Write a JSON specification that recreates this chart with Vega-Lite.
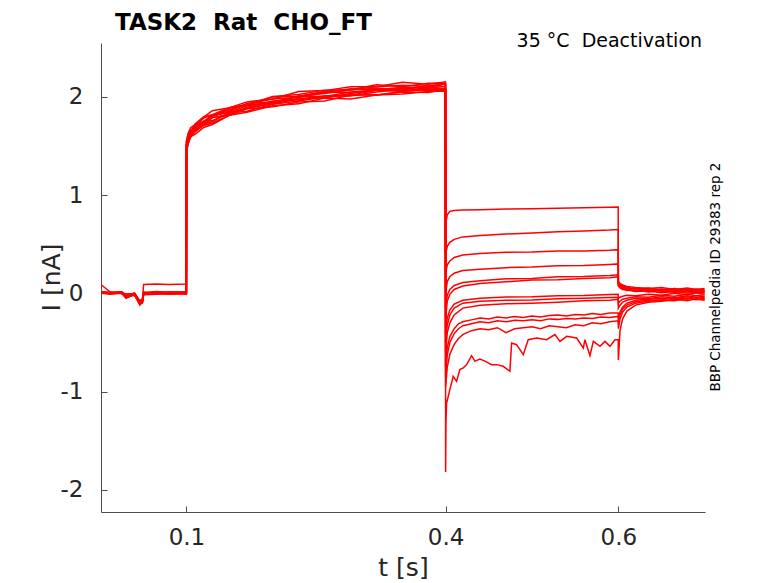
{
  "$schema": "https://vega.github.io/schema/vega-lite/v6.json",
  "description": "TASK2 Rat CHO_FT deactivation current traces",
  "width": 604,
  "height": 469,
  "autosize": {"type": "none"},
  "padding": {"left": 101, "top": 43, "right": 73, "bottom": 71},
  "background": "#ffffff",
  "config": {
    "view": {"stroke": null},
    "font": "DejaVu Sans",
    "axis": {
      "grid": false,
      "domainColor": "#4d4d4d",
      "tickColor": "#4d4d4d",
      "labelColor": "#262626",
      "titleColor": "#262626",
      "labelFont": "DejaVu Sans",
      "titleFont": "DejaVu Sans",
      "titleFontWeight": "normal",
      "labelFontSize": 23,
      "titleFontSize": 25,
      "tickSize": -6
    }
  },
  "title": {
    "text": "TASK2\u00a0 Rat\u00a0 CHO_FT",
    "anchor": "start",
    "frame": "group",
    "font": "DejaVu Sans",
    "fontSize": 23,
    "fontWeight": "bold",
    "color": "#000000",
    "dx": 14,
    "dy": 20,
    "offset": 17
  },
  "layer": [
    {
      "data": {"values": [
{"s":1,"t":0.001,"i":0.0},{"s":1,"t":0.012,"i":0.005},{"s":1,"t":0.025,"i":0.01},{"s":1,"t":0.03,"i":-0.01},{"s":1,"t":0.04,"i":0.0},{"s":1,"t":0.046,"i":-0.09},{"s":1,"t":0.049,"i":-0.07},{"s":1,"t":0.0505,"i":0.09},{"s":1,"t":0.065,"i":0.095},{"s":1,"t":0.08,"i":0.09},{"s":1,"t":0.0999,"i":0.095},
{"s":1,"t":0.1001,"i":1.55},{"s":1,"t":0.102,"i":1.59},{"s":1,"t":0.105,"i":1.66},{"s":1,"t":0.11,"i":1.69},{"s":1,"t":0.12,"i":1.785},{"s":1,"t":0.13,"i":1.815},{"s":1,"t":0.15,"i":1.89},{"s":1,"t":0.17,"i":1.92},{"s":1,"t":0.2,"i":2.0},{"s":1,"t":0.23,"i":2.005},{"s":1,"t":0.26,"i":2.055},{"s":1,"t":0.29,"i":2.075},{"s":1,"t":0.32,"i":2.105},{"s":1,"t":0.35,"i":2.12},{"s":1,"t":0.38,"i":2.11},{"s":1,"t":0.3999,"i":2.135},
{"s":1,"t":0.4001,"i":0.7},{"s":1,"t":0.402,"i":0.8},{"s":1,"t":0.405,"i":0.835},{"s":1,"t":0.41,"i":0.845},{"s":1,"t":0.42,"i":0.85},{"s":1,"t":0.44,"i":0.852},{"s":1,"t":0.47,"i":0.858},{"s":1,"t":0.5,"i":0.862},{"s":1,"t":0.53,"i":0.868},{"s":1,"t":0.56,"i":0.872},{"s":1,"t":0.59,"i":0.878},{"s":1,"t":0.5999,"i":0.88},
{"s":1,"t":0.6001,"i":0.12},{"s":1,"t":0.602,"i":0.1},{"s":1,"t":0.605,"i":0.085},{"s":1,"t":0.61,"i":0.07},{"s":1,"t":0.62,"i":0.06},{"s":1,"t":0.635,"i":0.05},{"s":1,"t":0.65,"i":0.06},{"s":1,"t":0.665,"i":0.04},{"s":1,"t":0.68,"i":0.055},{"s":1,"t":0.69,"i":0.04},{"s":1,"t":0.7,"i":0.05},

{"s":2,"t":0.001,"i":0.01},{"s":2,"t":0.012,"i":0.0},{"s":2,"t":0.025,"i":0.015},{"s":2,"t":0.03,"i":-0.04},{"s":2,"t":0.04,"i":-0.01},{"s":2,"t":0.046,"i":-0.1},{"s":2,"t":0.049,"i":-0.09},{"s":2,"t":0.0505,"i":0.0},{"s":2,"t":0.065,"i":0.01},{"s":2,"t":0.08,"i":0.0},{"s":2,"t":0.0999,"i":0.005},
{"s":2,"t":0.1001,"i":1.46},{"s":2,"t":0.102,"i":1.565},{"s":2,"t":0.105,"i":1.605},{"s":2,"t":0.11,"i":1.67},{"s":2,"t":0.12,"i":1.71},{"s":2,"t":0.13,"i":1.79},{"s":2,"t":0.15,"i":1.815},{"s":2,"t":0.17,"i":1.885},{"s":2,"t":0.2,"i":1.93},{"s":2,"t":0.23,"i":1.98},{"s":2,"t":0.26,"i":2.01},{"s":2,"t":0.29,"i":2.01},{"s":2,"t":0.32,"i":2.05},{"s":2,"t":0.35,"i":2.08},{"s":2,"t":0.38,"i":2.065},{"s":2,"t":0.3999,"i":2.08},
{"s":2,"t":0.4001,"i":0.4},{"s":2,"t":0.402,"i":0.48},{"s":2,"t":0.405,"i":0.52},{"s":2,"t":0.41,"i":0.55},{"s":2,"t":0.42,"i":0.575},{"s":2,"t":0.44,"i":0.59},{"s":2,"t":0.47,"i":0.605},{"s":2,"t":0.5,"i":0.615},{"s":2,"t":0.53,"i":0.628},{"s":2,"t":0.56,"i":0.636},{"s":2,"t":0.59,"i":0.645},{"s":2,"t":0.5999,"i":0.65},
{"s":2,"t":0.6001,"i":0.11},{"s":2,"t":0.602,"i":0.09},{"s":2,"t":0.605,"i":0.08},{"s":2,"t":0.61,"i":0.06},{"s":2,"t":0.62,"i":0.045},{"s":2,"t":0.635,"i":0.055},{"s":2,"t":0.65,"i":0.035},{"s":2,"t":0.665,"i":0.05},{"s":2,"t":0.68,"i":0.03},{"s":2,"t":0.69,"i":0.045},{"s":2,"t":0.7,"i":0.035},

{"s":3,"t":0.001,"i":0.0},{"s":3,"t":0.012,"i":0.01},{"s":3,"t":0.025,"i":0.0},{"s":3,"t":0.03,"i":-0.02},{"s":3,"t":0.04,"i":-0.02},{"s":3,"t":0.046,"i":-0.08},{"s":3,"t":0.049,"i":-0.06},{"s":3,"t":0.0505,"i":0.01},{"s":3,"t":0.065,"i":0.0},{"s":3,"t":0.08,"i":0.015},{"s":3,"t":0.0999,"i":0.01},
{"s":3,"t":0.1001,"i":1.52},{"s":3,"t":0.102,"i":1.57},{"s":3,"t":0.105,"i":1.66},{"s":3,"t":0.11,"i":1.675},{"s":3,"t":0.12,"i":1.755},{"s":3,"t":0.13,"i":1.8},{"s":3,"t":0.15,"i":1.87},{"s":3,"t":0.17,"i":1.92},{"s":3,"t":0.2,"i":1.945},{"s":3,"t":0.23,"i":2.005},{"s":3,"t":0.26,"i":2.05},{"s":3,"t":0.29,"i":2.045},{"s":3,"t":0.32,"i":2.075},{"s":3,"t":0.35,"i":2.07},{"s":3,"t":0.38,"i":2.12},{"s":3,"t":0.3999,"i":2.105},
{"s":3,"t":0.4001,"i":0.2},{"s":3,"t":0.402,"i":0.29},{"s":3,"t":0.405,"i":0.33},{"s":3,"t":0.41,"i":0.365},{"s":3,"t":0.42,"i":0.39},{"s":3,"t":0.44,"i":0.405},{"s":3,"t":0.47,"i":0.418},{"s":3,"t":0.5,"i":0.42},{"s":3,"t":0.53,"i":0.432},{"s":3,"t":0.56,"i":0.432},{"s":3,"t":0.59,"i":0.44},{"s":3,"t":0.5999,"i":0.445},
{"s":3,"t":0.6001,"i":0.1},{"s":3,"t":0.602,"i":0.085},{"s":3,"t":0.605,"i":0.07},{"s":3,"t":0.61,"i":0.05},{"s":3,"t":0.62,"i":0.05},{"s":3,"t":0.635,"i":0.03},{"s":3,"t":0.65,"i":0.045},{"s":3,"t":0.665,"i":0.025},{"s":3,"t":0.68,"i":0.04},{"s":3,"t":0.69,"i":0.02},{"s":3,"t":0.7,"i":0.03},

{"s":4,"t":0.001,"i":0.01},{"s":4,"t":0.012,"i":-0.005},{"s":4,"t":0.025,"i":0.01},{"s":4,"t":0.03,"i":-0.05},{"s":4,"t":0.04,"i":-0.01},{"s":4,"t":0.046,"i":-0.11},{"s":4,"t":0.049,"i":-0.1},{"s":4,"t":0.0505,"i":-0.01},{"s":4,"t":0.065,"i":0.0},{"s":4,"t":0.08,"i":-0.01},{"s":4,"t":0.0999,"i":0.0},
{"s":4,"t":0.1001,"i":1.445},{"s":4,"t":0.102,"i":1.535},{"s":4,"t":0.105,"i":1.59},{"s":4,"t":0.11,"i":1.65},{"s":4,"t":0.12,"i":1.71},{"s":4,"t":0.13,"i":1.735},{"s":4,"t":0.15,"i":1.815},{"s":4,"t":0.17,"i":1.88},{"s":4,"t":0.2,"i":1.9},{"s":4,"t":0.23,"i":1.95},{"s":4,"t":0.26,"i":1.96},{"s":4,"t":0.29,"i":2.02},{"s":4,"t":0.32,"i":2.02},{"s":4,"t":0.35,"i":2.05},{"s":4,"t":0.38,"i":2.045},{"s":4,"t":0.3999,"i":2.08},
{"s":4,"t":0.4001,"i":0.0},{"s":4,"t":0.402,"i":0.12},{"s":4,"t":0.405,"i":0.17},{"s":4,"t":0.41,"i":0.205},{"s":4,"t":0.42,"i":0.232},{"s":4,"t":0.44,"i":0.245},{"s":4,"t":0.47,"i":0.262},{"s":4,"t":0.5,"i":0.268},{"s":4,"t":0.53,"i":0.28},{"s":4,"t":0.56,"i":0.283},{"s":4,"t":0.59,"i":0.295},{"s":4,"t":0.5999,"i":0.3},
{"s":4,"t":0.6001,"i":0.09},{"s":4,"t":0.602,"i":0.075},{"s":4,"t":0.605,"i":0.06},{"s":4,"t":0.61,"i":0.045},{"s":4,"t":0.62,"i":0.03},{"s":4,"t":0.635,"i":0.04},{"s":4,"t":0.65,"i":0.02},{"s":4,"t":0.665,"i":0.035},{"s":4,"t":0.68,"i":0.015},{"s":4,"t":0.69,"i":0.03},{"s":4,"t":0.7,"i":0.02},

{"s":5,"t":0.001,"i":0.02},{"s":5,"t":0.012,"i":0.01},{"s":5,"t":0.025,"i":0.005},{"s":5,"t":0.03,"i":-0.03},{"s":5,"t":0.04,"i":0.0},{"s":5,"t":0.046,"i":-0.09},{"s":5,"t":0.049,"i":-0.08},{"s":5,"t":0.0505,"i":0.0},{"s":5,"t":0.065,"i":0.02},{"s":5,"t":0.08,"i":0.01},{"s":5,"t":0.0999,"i":0.015},
{"s":5,"t":0.1001,"i":1.55},{"s":5,"t":0.102,"i":1.62},{"s":5,"t":0.105,"i":1.655},{"s":5,"t":0.11,"i":1.725},{"s":5,"t":0.12,"i":1.8},{"s":5,"t":0.13,"i":1.82},{"s":5,"t":0.15,"i":1.89},{"s":5,"t":0.17,"i":1.92},{"s":5,"t":0.2,"i":2.005},{"s":5,"t":0.23,"i":2.025},{"s":5,"t":0.26,"i":2.07},{"s":5,"t":0.29,"i":2.075},{"s":5,"t":0.32,"i":2.125},{"s":5,"t":0.35,"i":2.105},{"s":5,"t":0.38,"i":2.14},{"s":5,"t":0.3999,"i":2.14},
{"s":5,"t":0.4001,"i":-0.15},{"s":5,"t":0.402,"i":-0.02},{"s":5,"t":0.405,"i":0.04},{"s":5,"t":0.41,"i":0.08},{"s":5,"t":0.42,"i":0.11},{"s":5,"t":0.44,"i":0.128},{"s":5,"t":0.47,"i":0.148},{"s":5,"t":0.5,"i":0.152},{"s":5,"t":0.53,"i":0.168},{"s":5,"t":0.56,"i":0.172},{"s":5,"t":0.59,"i":0.182},{"s":5,"t":0.5999,"i":0.19},
{"s":5,"t":0.6001,"i":0.08},{"s":5,"t":0.602,"i":0.06},{"s":5,"t":0.605,"i":0.05},{"s":5,"t":0.61,"i":0.03},{"s":5,"t":0.62,"i":0.035},{"s":5,"t":0.635,"i":0.015},{"s":5,"t":0.65,"i":0.03},{"s":5,"t":0.665,"i":0.01},{"s":5,"t":0.68,"i":0.025},{"s":5,"t":0.69,"i":0.005},{"s":5,"t":0.7,"i":0.015},

{"s":6,"t":0.001,"i":0.0},{"s":6,"t":0.012,"i":0.0},{"s":6,"t":0.025,"i":0.01},{"s":6,"t":0.03,"i":-0.01},{"s":6,"t":0.04,"i":-0.02},{"s":6,"t":0.046,"i":-0.07},{"s":6,"t":0.049,"i":-0.07},{"s":6,"t":0.0505,"i":0.005},{"s":6,"t":0.065,"i":0.0},{"s":6,"t":0.08,"i":0.0},{"s":6,"t":0.0999,"i":0.0},
{"s":6,"t":0.1001,"i":1.505},{"s":6,"t":0.102,"i":1.59},{"s":6,"t":0.105,"i":1.62},{"s":6,"t":0.11,"i":1.68},{"s":6,"t":0.12,"i":1.72},{"s":6,"t":0.13,"i":1.805},{"s":6,"t":0.15,"i":1.845},{"s":6,"t":0.17,"i":1.91},{"s":6,"t":0.2,"i":1.94},{"s":6,"t":0.23,"i":2.01},{"s":6,"t":0.26,"i":2.005},{"s":6,"t":0.29,"i":2.05},{"s":6,"t":0.32,"i":2.065},{"s":6,"t":0.35,"i":2.09},{"s":6,"t":0.38,"i":2.105},{"s":6,"t":0.3999,"i":2.085},
{"s":6,"t":0.4001,"i":-0.25},{"s":6,"t":0.402,"i":-0.08},{"s":6,"t":0.405,"i":-0.01},{"s":6,"t":0.41,"i":0.04},{"s":6,"t":0.42,"i":0.075},{"s":6,"t":0.44,"i":0.1},{"s":6,"t":0.47,"i":0.118},{"s":6,"t":0.5,"i":0.135},{"s":6,"t":0.53,"i":0.138},{"s":6,"t":0.56,"i":0.152},{"s":6,"t":0.59,"i":0.158},{"s":6,"t":0.5999,"i":0.17},
{"s":6,"t":0.6001,"i":0.075},{"s":6,"t":0.602,"i":0.055},{"s":6,"t":0.605,"i":0.04},{"s":6,"t":0.61,"i":0.035},{"s":6,"t":0.62,"i":0.02},{"s":6,"t":0.635,"i":0.025},{"s":6,"t":0.65,"i":0.005},{"s":6,"t":0.665,"i":0.02},{"s":6,"t":0.68,"i":0.0},{"s":6,"t":0.69,"i":0.015},{"s":6,"t":0.7,"i":0.005},

{"s":7,"t":0.001,"i":0.01},{"s":7,"t":0.012,"i":0.005},{"s":7,"t":0.025,"i":0.0},{"s":7,"t":0.03,"i":-0.045},{"s":7,"t":0.04,"i":-0.01},{"s":7,"t":0.046,"i":-0.12},{"s":7,"t":0.049,"i":-0.09},{"s":7,"t":0.0505,"i":-0.01},{"s":7,"t":0.065,"i":0.005},{"s":7,"t":0.08,"i":-0.005},{"s":7,"t":0.0999,"i":0.005},
{"s":7,"t":0.1001,"i":1.47},{"s":7,"t":0.102,"i":1.52},{"s":7,"t":0.105,"i":1.615},{"s":7,"t":0.11,"i":1.645},{"s":7,"t":0.12,"i":1.72},{"s":7,"t":0.13,"i":1.75},{"s":7,"t":0.15,"i":1.84},{"s":7,"t":0.17,"i":1.855},{"s":7,"t":0.2,"i":1.925},{"s":7,"t":0.23,"i":1.96},{"s":7,"t":0.26,"i":2.0},{"s":7,"t":0.29,"i":2.025},{"s":7,"t":0.32,"i":2.02},{"s":7,"t":0.35,"i":2.055},{"s":7,"t":0.38,"i":2.085},{"s":7,"t":0.3999,"i":2.06},
{"s":7,"t":0.4001,"i":-0.4},{"s":7,"t":0.402,"i":-0.25},{"s":7,"t":0.405,"i":-0.17},{"s":7,"t":0.41,"i":-0.11},{"s":7,"t":0.42,"i":-0.07},{"s":7,"t":0.44,"i":-0.05},{"s":7,"t":0.47,"i":-0.038},{"s":7,"t":0.5,"i":-0.035},{"s":7,"t":0.53,"i":-0.025},{"s":7,"t":0.56,"i":-0.022},{"s":7,"t":0.59,"i":-0.012},{"s":7,"t":0.5999,"i":-0.01},
{"s":7,"t":0.6001,"i":-0.05},{"s":7,"t":0.602,"i":-0.04},{"s":7,"t":0.605,"i":-0.03},{"s":7,"t":0.61,"i":-0.02},{"s":7,"t":0.62,"i":-0.025},{"s":7,"t":0.635,"i":-0.01},{"s":7,"t":0.65,"i":-0.02},{"s":7,"t":0.665,"i":0.0},{"s":7,"t":0.68,"i":-0.015},{"s":7,"t":0.69,"i":0.005},{"s":7,"t":0.7,"i":-0.01},

{"s":8,"t":0.001,"i":0.005},{"s":8,"t":0.012,"i":0.0},{"s":8,"t":0.025,"i":0.01},{"s":8,"t":0.03,"i":-0.02},{"s":8,"t":0.04,"i":0.0},{"s":8,"t":0.046,"i":-0.08},{"s":8,"t":0.049,"i":-0.08},{"s":8,"t":0.0505,"i":0.01},{"s":8,"t":0.065,"i":0.01},{"s":8,"t":0.08,"i":0.005},{"s":8,"t":0.0999,"i":0.01},
{"s":8,"t":0.1001,"i":1.515},{"s":8,"t":0.102,"i":1.6},{"s":8,"t":0.105,"i":1.64},{"s":8,"t":0.11,"i":1.72},{"s":8,"t":0.12,"i":1.745},{"s":8,"t":0.13,"i":1.815},{"s":8,"t":0.15,"i":1.87},{"s":8,"t":0.17,"i":1.93},{"s":8,"t":0.2,"i":1.98},{"s":8,"t":0.23,"i":1.995},{"s":8,"t":0.26,"i":2.045},{"s":8,"t":0.29,"i":2.085},{"s":8,"t":0.32,"i":2.075},{"s":8,"t":0.35,"i":2.1},{"s":8,"t":0.38,"i":2.095},{"s":8,"t":0.3999,"i":2.135},
{"s":8,"t":0.4001,"i":-0.5},{"s":8,"t":0.402,"i":-0.32},{"s":8,"t":0.405,"i":-0.22},{"s":8,"t":0.41,"i":-0.15},{"s":8,"t":0.42,"i":-0.1},{"s":8,"t":0.44,"i":-0.08},{"s":8,"t":0.47,"i":-0.07},{"s":8,"t":0.5,"i":-0.068},{"s":8,"t":0.53,"i":-0.055},{"s":8,"t":0.56,"i":-0.05},{"s":8,"t":0.59,"i":-0.042},{"s":8,"t":0.5999,"i":-0.04},
{"s":8,"t":0.6001,"i":-0.1},{"s":8,"t":0.602,"i":-0.08},{"s":8,"t":0.605,"i":-0.06},{"s":8,"t":0.61,"i":-0.05},{"s":8,"t":0.62,"i":-0.035},{"s":8,"t":0.635,"i":-0.04},{"s":8,"t":0.65,"i":-0.02},{"s":8,"t":0.665,"i":-0.03},{"s":8,"t":0.68,"i":-0.01},{"s":8,"t":0.69,"i":-0.025},{"s":8,"t":0.7,"i":-0.015},

{"s":9,"t":0.001,"i":0.0},{"s":9,"t":0.012,"i":0.01},{"s":9,"t":0.025,"i":0.01},{"s":9,"t":0.03,"i":-0.03},{"s":9,"t":0.04,"i":-0.015},{"s":9,"t":0.046,"i":-0.1},{"s":9,"t":0.049,"i":-0.07},{"s":9,"t":0.0505,"i":0.0},{"s":9,"t":0.065,"i":-0.005},{"s":9,"t":0.08,"i":0.0},{"s":9,"t":0.0999,"i":0.0},
{"s":9,"t":0.1001,"i":1.51},{"s":9,"t":0.102,"i":1.545},{"s":9,"t":0.105,"i":1.625},{"s":9,"t":0.11,"i":1.67},{"s":9,"t":0.12,"i":1.74},{"s":9,"t":0.13,"i":1.79},{"s":9,"t":0.15,"i":1.825},{"s":9,"t":0.17,"i":1.895},{"s":9,"t":0.2,"i":1.96},{"s":9,"t":0.23,"i":1.97},{"s":9,"t":0.26,"i":2.01},{"s":9,"t":0.29,"i":2.015},{"s":9,"t":0.32,"i":2.07},{"s":9,"t":0.35,"i":2.065},{"s":9,"t":0.38,"i":2.095},{"s":9,"t":0.3999,"i":2.08},
{"s":9,"t":0.4001,"i":-0.6},{"s":9,"t":0.402,"i":-0.4},{"s":9,"t":0.405,"i":-0.3},{"s":9,"t":0.41,"i":-0.22},{"s":9,"t":0.42,"i":-0.15},{"s":9,"t":0.44,"i":-0.12},{"s":9,"t":0.47,"i":-0.105},{"s":9,"t":0.5,"i":-0.1},{"s":9,"t":0.53,"i":-0.09},{"s":9,"t":0.56,"i":-0.075},{"s":9,"t":0.59,"i":-0.07},{"s":9,"t":0.5999,"i":-0.06},
{"s":9,"t":0.6001,"i":-0.15},{"s":9,"t":0.602,"i":-0.12},{"s":9,"t":0.605,"i":-0.09},{"s":9,"t":0.61,"i":-0.07},{"s":9,"t":0.62,"i":-0.05},{"s":9,"t":0.635,"i":-0.055},{"s":9,"t":0.65,"i":-0.035},{"s":9,"t":0.665,"i":-0.045},{"s":9,"t":0.68,"i":-0.025},{"s":9,"t":0.69,"i":-0.04},{"s":9,"t":0.7,"i":-0.03},

{"s":10,"t":0.001,"i":0.015},{"s":10,"t":0.012,"i":0.0},{"s":10,"t":0.025,"i":0.005},{"s":10,"t":0.03,"i":-0.01},{"s":10,"t":0.04,"i":-0.005},{"s":10,"t":0.046,"i":-0.09},{"s":10,"t":0.049,"i":-0.09},{"s":10,"t":0.0505,"i":0.005},{"s":10,"t":0.065,"i":0.015},{"s":10,"t":0.08,"i":0.01},{"s":10,"t":0.0999,"i":0.01},
{"s":10,"t":0.1001,"i":1.55},{"s":10,"t":0.102,"i":1.63},{"s":10,"t":0.105,"i":1.69},{"s":10,"t":0.11,"i":1.715},{"s":10,"t":0.12,"i":1.795},{"s":10,"t":0.13,"i":1.86},{"s":10,"t":0.15,"i":1.89},{"s":10,"t":0.17,"i":1.95},{"s":10,"t":0.2,"i":1.98},{"s":10,"t":0.23,"i":2.055},{"s":10,"t":0.26,"i":2.065},{"s":10,"t":0.29,"i":2.105},{"s":10,"t":0.32,"i":2.105},{"s":10,"t":0.35,"i":2.15},{"s":10,"t":0.38,"i":2.13},{"s":10,"t":0.3999,"i":2.155},
{"s":10,"t":0.4001,"i":-0.75},{"s":10,"t":0.402,"i":-0.55},{"s":10,"t":0.405,"i":-0.44},{"s":10,"t":0.41,"i":-0.36},{"s":10,"t":0.415,"i":-0.31},{"s":10,"t":0.42,"i":-0.29},{"s":10,"t":0.43,"i":-0.27},{"s":10,"t":0.44,"i":-0.25},{"s":10,"t":0.45,"i":-0.26},{"s":10,"t":0.46,"i":-0.24},{"s":10,"t":0.47,"i":-0.25},{"s":10,"t":0.48,"i":-0.235},{"s":10,"t":0.49,"i":-0.245},{"s":10,"t":0.5,"i":-0.23},{"s":10,"t":0.51,"i":-0.24},{"s":10,"t":0.52,"i":-0.225},{"s":10,"t":0.53,"i":-0.22},{"s":10,"t":0.54,"i":-0.23},{"s":10,"t":0.55,"i":-0.215},{"s":10,"t":0.56,"i":-0.22},{"s":10,"t":0.57,"i":-0.205},{"s":10,"t":0.58,"i":-0.215},{"s":10,"t":0.59,"i":-0.2},{"s":10,"t":0.5999,"i":-0.2},
{"s":10,"t":0.6001,"i":-0.25},{"s":10,"t":0.602,"i":-0.19},{"s":10,"t":0.605,"i":-0.14},{"s":10,"t":0.61,"i":-0.1},{"s":10,"t":0.62,"i":-0.07},{"s":10,"t":0.635,"i":-0.06},{"s":10,"t":0.65,"i":-0.05},{"s":10,"t":0.665,"i":-0.055},{"s":10,"t":0.68,"i":-0.035},{"s":10,"t":0.69,"i":-0.05},{"s":10,"t":0.7,"i":-0.04},

{"s":11,"t":0.001,"i":0.0},{"s":11,"t":0.012,"i":-0.01},{"s":11,"t":0.025,"i":0.0},{"s":11,"t":0.03,"i":-0.035},{"s":11,"t":0.04,"i":-0.02},{"s":11,"t":0.046,"i":-0.11},{"s":11,"t":0.049,"i":-0.08},{"s":11,"t":0.0505,"i":-0.015},{"s":11,"t":0.065,"i":-0.01},{"s":11,"t":0.08,"i":-0.005},{"s":11,"t":0.0999,"i":-0.01},
{"s":11,"t":0.1001,"i":1.435},{"s":11,"t":0.102,"i":1.525},{"s":11,"t":0.105,"i":1.6},{"s":11,"t":0.11,"i":1.62},{"s":11,"t":0.12,"i":1.69},{"s":11,"t":0.13,"i":1.72},{"s":11,"t":0.15,"i":1.815},{"s":11,"t":0.17,"i":1.845},{"s":11,"t":0.2,"i":1.91},{"s":11,"t":0.23,"i":1.93},{"s":11,"t":0.26,"i":1.99},{"s":11,"t":0.29,"i":1.98},{"s":11,"t":0.32,"i":2.02},{"s":11,"t":0.35,"i":2.03},{"s":11,"t":0.38,"i":2.055},{"s":11,"t":0.3999,"i":2.06},
{"s":11,"t":0.4001,"i":-0.85},{"s":11,"t":0.402,"i":-0.63},{"s":11,"t":0.405,"i":-0.5},{"s":11,"t":0.41,"i":-0.41},{"s":11,"t":0.415,"i":-0.36},{"s":11,"t":0.42,"i":-0.33},{"s":11,"t":0.43,"i":-0.31},{"s":11,"t":0.44,"i":-0.29},{"s":11,"t":0.45,"i":-0.3},{"s":11,"t":0.46,"i":-0.28},{"s":11,"t":0.47,"i":-0.29},{"s":11,"t":0.48,"i":-0.275},{"s":11,"t":0.49,"i":-0.28},{"s":11,"t":0.5,"i":-0.27},{"s":11,"t":0.51,"i":-0.28},{"s":11,"t":0.52,"i":-0.26},{"s":11,"t":0.53,"i":-0.265},{"s":11,"t":0.54,"i":-0.255},{"s":11,"t":0.55,"i":-0.26},{"s":11,"t":0.56,"i":-0.25},{"s":11,"t":0.57,"i":-0.255},{"s":11,"t":0.58,"i":-0.24},{"s":11,"t":0.59,"i":-0.245},{"s":11,"t":0.5999,"i":-0.235},
{"s":11,"t":0.6001,"i":-0.3},{"s":11,"t":0.602,"i":-0.22},{"s":11,"t":0.605,"i":-0.16},{"s":11,"t":0.61,"i":-0.12},{"s":11,"t":0.62,"i":-0.085},{"s":11,"t":0.635,"i":-0.07},{"s":11,"t":0.65,"i":-0.065},{"s":11,"t":0.665,"i":-0.045},{"s":11,"t":0.68,"i":-0.06},{"s":11,"t":0.69,"i":-0.04},{"s":11,"t":0.7,"i":-0.055},

{"s":12,"t":0.001,"i":0.01},{"s":12,"t":0.012,"i":0.005},{"s":12,"t":0.025,"i":0.015},{"s":12,"t":0.03,"i":-0.02},{"s":12,"t":0.04,"i":0.0},{"s":12,"t":0.046,"i":-0.08},{"s":12,"t":0.049,"i":-0.06},{"s":12,"t":0.0505,"i":0.0},{"s":12,"t":0.065,"i":0.01},{"s":12,"t":0.08,"i":0.0},{"s":12,"t":0.0999,"i":0.005},
{"s":12,"t":0.1001,"i":1.505},{"s":12,"t":0.102,"i":1.585},{"s":12,"t":0.105,"i":1.625},{"s":12,"t":0.11,"i":1.71},{"s":12,"t":0.12,"i":1.75},{"s":12,"t":0.13,"i":1.815},{"s":12,"t":0.15,"i":1.855},{"s":12,"t":0.17,"i":1.935},{"s":12,"t":0.2,"i":1.95},{"s":12,"t":0.23,"i":2.01},{"s":12,"t":0.26,"i":2.035},{"s":12,"t":0.29,"i":2.07},{"s":12,"t":0.32,"i":2.09},{"s":12,"t":0.35,"i":2.08},{"s":12,"t":0.38,"i":2.115},{"s":12,"t":0.3999,"i":2.135},
{"s":12,"t":0.4001,"i":-0.95},{"s":12,"t":0.402,"i":-0.75},{"s":12,"t":0.405,"i":-0.62},{"s":12,"t":0.41,"i":-0.52},{"s":12,"t":0.415,"i":-0.46},{"s":12,"t":0.42,"i":-0.42},{"s":12,"t":0.43,"i":-0.38},{"s":12,"t":0.44,"i":-0.36},{"s":12,"t":0.45,"i":-0.37},{"s":12,"t":0.46,"i":-0.35},{"s":12,"t":0.47,"i":-0.4},{"s":12,"t":0.48,"i":-0.36},{"s":12,"t":0.49,"i":-0.35},{"s":12,"t":0.5,"i":-0.34},{"s":12,"t":0.51,"i":-0.36},{"s":12,"t":0.52,"i":-0.33},{"s":12,"t":0.53,"i":-0.34},{"s":12,"t":0.54,"i":-0.35},{"s":12,"t":0.55,"i":-0.32},{"s":12,"t":0.56,"i":-0.33},{"s":12,"t":0.57,"i":-0.3},{"s":12,"t":0.58,"i":-0.31},{"s":12,"t":0.59,"i":-0.29},{"s":12,"t":0.5999,"i":-0.28},
{"s":12,"t":0.6001,"i":-0.36},{"s":12,"t":0.602,"i":-0.26},{"s":12,"t":0.605,"i":-0.19},{"s":12,"t":0.61,"i":-0.14},{"s":12,"t":0.62,"i":-0.1},{"s":12,"t":0.635,"i":-0.08},{"s":12,"t":0.65,"i":-0.07},{"s":12,"t":0.665,"i":-0.075},{"s":12,"t":0.68,"i":-0.05},{"s":12,"t":0.69,"i":-0.065},{"s":12,"t":0.7,"i":-0.06},

{"s":13,"t":0.001,"i":0.09},{"s":13,"t":0.006,"i":0.055},{"s":13,"t":0.012,"i":0.01},{"s":13,"t":0.025,"i":0.0},{"s":13,"t":0.03,"i":-0.03},{"s":13,"t":0.04,"i":-0.01},{"s":13,"t":0.046,"i":-0.1},{"s":13,"t":0.049,"i":-0.085},{"s":13,"t":0.0505,"i":0.005},{"s":13,"t":0.065,"i":0.0},{"s":13,"t":0.08,"i":0.01},{"s":13,"t":0.0999,"i":0.0},
{"s":13,"t":0.1001,"i":1.5},{"s":13,"t":0.102,"i":1.55},{"s":13,"t":0.105,"i":1.625},{"s":13,"t":0.11,"i":1.655},{"s":13,"t":0.12,"i":1.745},{"s":13,"t":0.13,"i":1.76},{"s":13,"t":0.15,"i":1.84},{"s":13,"t":0.17,"i":1.885},{"s":13,"t":0.2,"i":1.945},{"s":13,"t":0.23,"i":1.985},{"s":13,"t":0.26,"i":1.99},{"s":13,"t":0.29,"i":2.035},{"s":13,"t":0.32,"i":2.07},{"s":13,"t":0.35,"i":2.055},{"s":13,"t":0.38,"i":2.08},{"s":13,"t":0.3999,"i":2.065},
{"s":13,"t":0.4001,"i":-1.82},{"s":13,"t":0.4005,"i":-1.3},{"s":13,"t":0.4012,"i":-1.12},{"s":13,"t":0.405,"i":-0.98},{"s":13,"t":0.4089,"i":-0.845},{"s":13,"t":0.4128,"i":-0.896},{"s":13,"t":0.4166,"i":-0.777},{"s":13,"t":0.4205,"i":-0.76},{"s":13,"t":0.4244,"i":-0.726},{"s":13,"t":0.4302,"i":-0.635},{"s":13,"t":0.434,"i":-0.69},{"s":13,"t":0.4398,"i":-0.67},{"s":13,"t":0.4456,"i":-0.69},{"s":13,"t":0.4533,"i":-0.726},{"s":13,"t":0.4591,"i":-0.726},{"s":13,"t":0.4668,"i":-0.743},{"s":13,"t":0.4745,"i":-0.794},{"s":13,"t":0.4765,"i":-0.506},{"s":13,"t":0.4823,"i":-0.523},{"s":13,"t":0.49,"i":-0.624},{"s":13,"t":0.4957,"i":-0.472},{"s":13,"t":0.5055,"i":-0.455},{"s":13,"t":0.517,"i":-0.472},{"s":13,"t":0.5267,"i":-0.42},{"s":13,"t":0.5325,"i":-0.489},{"s":13,"t":0.5402,"i":-0.438},{"s":13,"t":0.5518,"i":-0.455},{"s":13,"t":0.5595,"i":-0.557},{"s":13,"t":0.5614,"i":-0.472},{"s":13,"t":0.5672,"i":-0.635},{"s":13,"t":0.5711,"i":-0.489},{"s":13,"t":0.5788,"i":-0.54},{"s":13,"t":0.5846,"i":-0.489},{"s":13,"t":0.5904,"i":-0.54},{"s":13,"t":0.5962,"i":-0.472},{"s":13,"t":0.5999,"i":-0.47},
{"s":13,"t":0.6001,"i":-0.68},{"s":13,"t":0.602,"i":-0.38},{"s":13,"t":0.605,"i":-0.26},{"s":13,"t":0.61,"i":-0.18},{"s":13,"t":0.62,"i":-0.12},{"s":13,"t":0.635,"i":-0.09},{"s":13,"t":0.65,"i":-0.08},{"s":13,"t":0.665,"i":-0.06},{"s":13,"t":0.68,"i":-0.075},{"s":13,"t":0.69,"i":-0.055},{"s":13,"t":0.7,"i":-0.07}
      ]},
      "mark": {"type": "line", "color": "#ff0000", "strokeWidth": 1.5, "clip": true},
      "encoding": {
        "x": {
          "field": "t",
          "type": "quantitative",
          "scale": {"domain": [0.0011, 0.7004], "nice": false, "zero": false},
          "axis": {
            "values": [0.1, 0.4, 0.6],
            "labelExpr": "datum.value + ''",
            "title": "t [s]",
            "labelPadding": 20,
            "titlePadding": 6
          }
        },
        "y": {
          "field": "i",
          "type": "quantitative",
          "scale": {"domain": [-2.227, 2.55], "nice": false, "zero": false},
          "axis": {
            "values": [-2, -1, 0, 1, 2],
            "labelExpr": "datum.value + ''",
            "title": "I [nA]",
            "labelPadding": 24,
            "titleAngle": 270,
            "titleX": -42,
            "titleY": 234,
            "titleAlign": "center",
            "titleBaseline": "alphabetic"
          }
        },
        "detail": {"field": "s"}
      }
    },
    {
      "data": {"values": [{"label": "35 °C\u00a0 Deactivation"}]},
      "mark": {"type": "text", "align": "right", "baseline": "alphabetic", "fontSize": 19, "font": "DejaVu Sans", "color": "#000000"},
      "encoding": {
        "x": {"datum": 0.697, "type": "quantitative"},
        "y": {"datum": 2.509, "type": "quantitative"},
        "text": {"field": "label"}
      }
    },
    {
      "data": {"values": [{"label": "BBP Channelpedia ID 29383 rep 2"}]},
      "mark": {"type": "text", "angle": 270, "align": "center", "baseline": "middle", "fontSize": 13.5, "font": "DejaVu Sans", "color": "#000000"},
      "encoding": {
        "x": {"datum": 0.7132, "type": "quantitative"},
        "y": {"datum": 0.166, "type": "quantitative"},
        "text": {"field": "label"}
      }
    }
  ]
}
